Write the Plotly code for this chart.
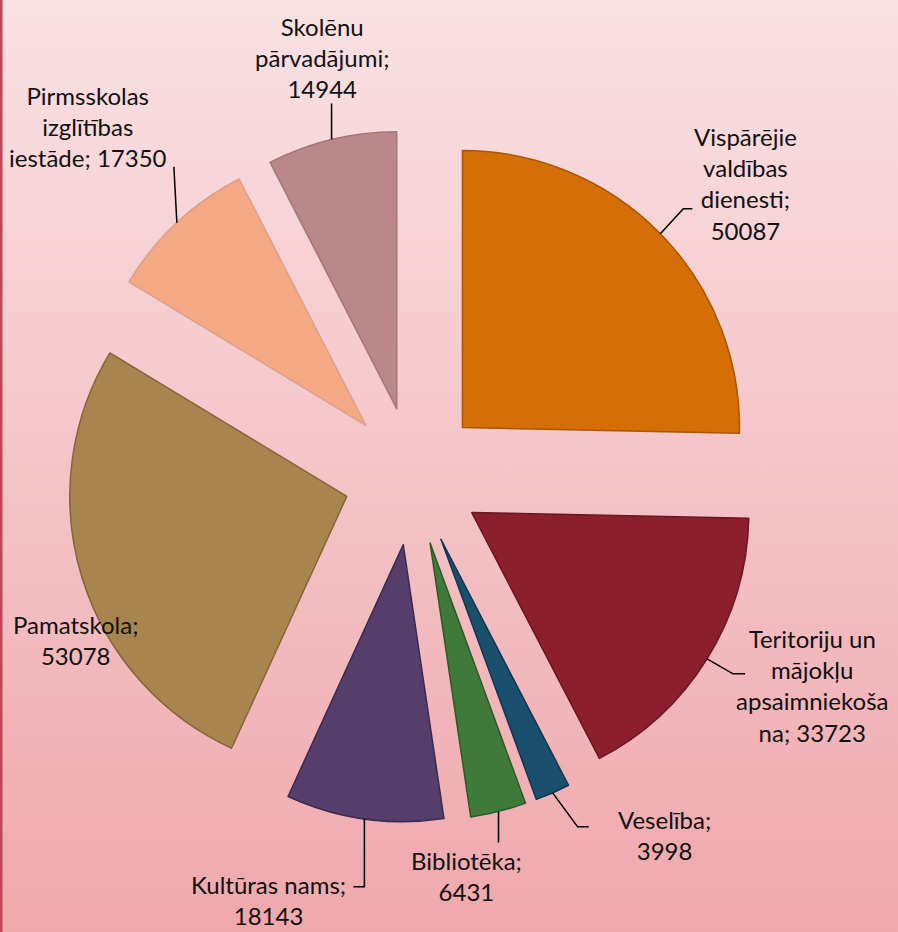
import math
import base64
import plotly.graph_objects as go

# ---------------- data ----------------
categories = [
    "Vispārējie valdības dienesti",
    "Teritoriju un mājokļu apsaimniekošana",
    "Veselība",
    "Bibliotēka",
    "Kultūras nams",
    "Pamatskola",
    "Pirmsskolas izglītības iestāde",
    "Skolēnu pārvadājumi",
]
values = [50087, 33723, 3998, 6431, 18143, 53078, 17350, 14944]
# wrapped display names (as shown in the chart labels)
display_names = [
    "Vispārējie<br>valdības<br>dienesti;",
    "Teritoriju un<br>mājokļu<br>apsaimniekoša<br>na;",
    "Veselība;",
    "Bibliotēka;",
    "Kultūras nams;",
    "Pamatskola;",
    "Pirmsskolas<br>izglītības<br>iestāde;",
    "Skolēnu<br>pārvadājumi;",
]
value_joiners = ["<br>", " ", "<br>", "<br>", "<br>", "<br>", " ", "<br>"]

# ---------------- style ----------------
colors = ["#D56F05", "#8C1F2E", "#1B4F6E", "#3F7A3A", "#553E6B", "#A8844F", "#F4A884", "#BA878A"]
edge_colors = ["#A85600", "#6A1522", "#0F3750", "#2B5A27", "#3C2B4E", "#84663A", "#DDA08A", "#A57579"]

W, H = 898, 932
CX, CY = 413, 476      # pie centre in pixels
R = 277                # pie radius in pixels
PULL = 0.25
FONT = "Lato"
FSIZE = 24

# label placement (pixel offsets from each slice's outer-arc midpoint)
label_offsets = [(85, -50), (105, 27), (112, 42), (-32, 64), (-96, 81), (-7, 62), (-89, -96), (-10, -82)]
leader_paths = [
    [(23, -25), (32, -25)],
    [(26, 15), (38, 15)],
    [(25, 34), (36, 34)],
    [(0, 31)],
    [(0, 68), (-11, 68)],
    [],
    [(-3, -56)],
    [(0, -36)],
]


def px(x):
    return x / W


def py(y):
    return 1 - y / H


half = R * (1 + PULL)
domain_x = [(CX - half) / W, (CX + half) / W]
domain_y = [1 - (CY + half) / H, 1 - (CY - half) / H]

fig = go.Figure()
fig.add_trace(go.Pie(
    labels=categories,
    values=values,
    sort=False,
    direction="clockwise",
    rotation=0,
    pull=[PULL] * len(values),
    marker=dict(colors=colors, line=dict(color=edge_colors, width=1.5)),
    textinfo="none",
    hoverinfo="label+value",
    showlegend=False,
    domain=dict(x=domain_x, y=domain_y),
))

total = sum(values)
annotations = []
shapes = []
cum = 0
for i, v in enumerate(values):
    mid = (cum + v / 2) / total * 2 * math.pi
    cum += v
    dx, dy = math.sin(mid), -math.cos(mid)
    ax_, ay_ = CX + half * dx, CY + half * dy
    ox, oy = label_offsets[i]
    annotations.append(dict(
        x=px(ax_ + ox), y=py(ay_ + oy), xref="paper", yref="paper",
        text=display_names[i] + value_joiners[i] + str(v),
        showarrow=False, xanchor="center", yanchor="middle", align="center",
        font=dict(family=FONT, size=FSIZE, color="#111111"),
    ))
    if leader_paths[i]:
        path = f"M {px(ax_)} {py(ay_)}"
        for (lx, ly) in leader_paths[i]:
            path += f" L {px(ax_ + lx)} {py(ay_ + ly)}"
        shapes.append(dict(type="path", xref="paper", yref="paper", path=path,
                           line=dict(color="#000000", width=1.5)))

# left border line
shapes.append(dict(type="line", xref="paper", yref="paper", x0=px(1), x1=px(1), y0=0, y1=1,
                   line=dict(color="#BE4657", width=3)))

svg = (
    f'<svg xmlns="http://www.w3.org/2000/svg" width="{W}" height="{H}" preserveAspectRatio="none">'
    '<defs><linearGradient id="g" x1="0" y1="0" x2="0" y2="1">'
    '<stop offset="0" stop-color="#F9E1E4"/><stop offset="1" stop-color="#EFA8AC"/>'
    '</linearGradient></defs><rect width="100%" height="100%" fill="url(#g)"/></svg>'
)
bg_src = "data:image/svg+xml;base64," + base64.b64encode(svg.encode()).decode()

fig.update_layout(
    width=W, height=H,
    margin=dict(l=0, r=0, t=0, b=0),
    paper_bgcolor="#F4C4C8",
    plot_bgcolor="rgba(0,0,0,0)",
    images=[dict(source=bg_src, xref="paper", yref="paper", x=0, y=1, sizex=1, sizey=1,
                 xanchor="left", yanchor="top", sizing="stretch", layer="below")],
    annotations=annotations,
    shapes=shapes,
    font=dict(family=FONT),
)

fig.write_html("out.html", config={"displayModeBar": False},
               post_script="document.body.style.margin='0';")
